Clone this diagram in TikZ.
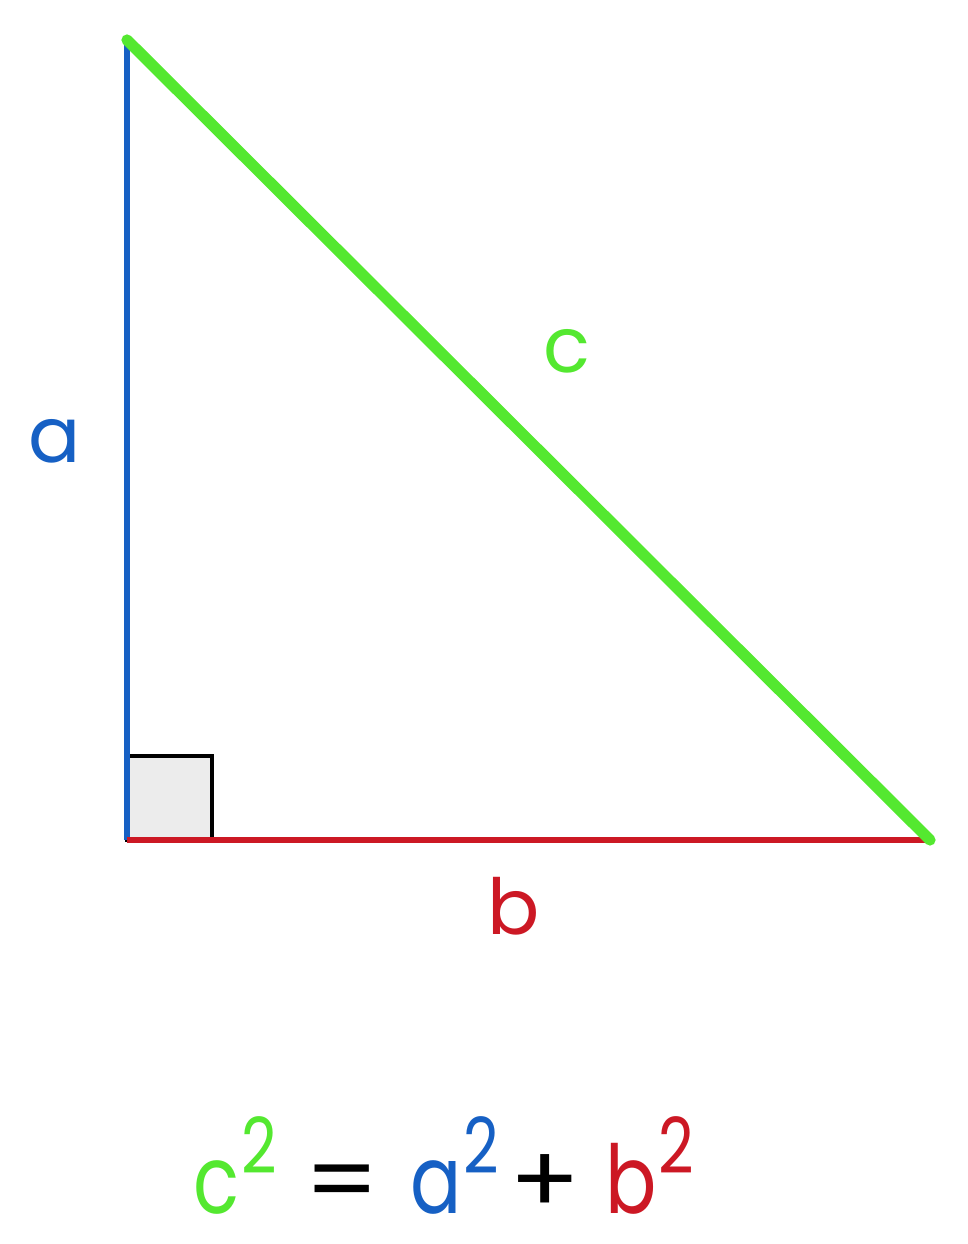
\documentclass[tikz,border=0pt]{standalone}
\usepackage{fontspec}
\setmainfont{Poppins}
\usepackage{tikz}
\usetikzlibrary{calc}
\definecolor{legBlue}{RGB}{22,96,196}
\definecolor{legRed}{RGB}{204,24,36}
\definecolor{hypGreen}{RGB}{84,232,48}
\definecolor{boxGray}{RGB}{236,236,236}
\newcommand{\sqterm}[2]{{\color{#1}#2\hspace{0.02em}\raisebox{0.42em}{\fontsize{22}{22}\selectfont 2}}}
\tikzset{
  leg a/.style={draw=legBlue,line width=1.8pt},
  leg b/.style={draw=legRed,line width=1.8pt},
  hyp/.style={draw=hypGreen,line width=3.2pt,line cap=round},
  right box/.style={draw=black,fill=boxGray,line width=1.4pt},
  side label/.style={anchor=base,font=\fontsize{22}{22}\selectfont,inner sep=0pt},
  law/.style={anchor=base west,font=\fontsize{27}{27}\selectfont,inner sep=0pt,xscale=0.8,transform shape},
  law op/.style={anchor=base,font=\fontsize{27}{27}\selectfont,inner sep=0pt,xscale=1.1,transform shape}
}
\begin{document}
\begin{tikzpicture}
  \useasboundingbox (0,0) rectangle (9.68,12.44);
  \coordinate (apex) at (1.27,12.04);
  \coordinate (corner) at (1.27,4.04);
  \coordinate (foot) at (9.30,4.04);
  % right angle mark
  \draw[right box] (corner) rectangle ($(corner)+(0.85,0.84)$);
  \draw[leg a] (corner) -- (apex);
  \draw[leg b] (corner) -- (foot);
  \draw[hyp] (apex) -- (foot);
  \node[side label,text=legBlue] (labA) at (0.55,7.81) {a};
  \node[side label,text=hypGreen] (labC) at (5.67,8.71) {c};
  \node[side label,text=legRed] (labB) at (5.14,3.09) {b};
  % c^2 = a^2 + b^2
  \node[law] (sqC) at (1.93,0.31) {\sqterm{hypGreen}{c}};
  \node[law op] (eq) at (3.42,0.31) {=};
  \node[law] (sqA) at (4.10,0.31) {\sqterm{legBlue}{a}};
  \node[law op] (plus) at (5.45,0.31) {+};
  \node[law] (sqB) at (6.05,0.31) {\sqterm{legRed}{b}};
\end{tikzpicture}
\end{document}
